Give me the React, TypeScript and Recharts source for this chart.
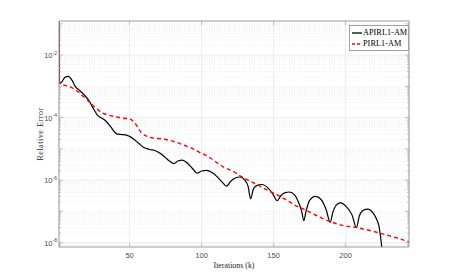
import React from "react";
import {
    CartesianGrid,
    Legend,
    Line,
    LineChart,
    ReferenceLine,
    XAxis,
    YAxis,
} from "recharts";

// iterations and log10(relative error)
const apirlIter = [
    1, 1.4, 3, 5, 7.4, 10, 12.5, 15, 18.2, 21.7, 24.5, 27.5, 30, 33.3, 37, 40.2, 43, 47.2, 50, 53,
    56.5, 59.9, 64, 68, 71.5, 74.9, 78, 80.7, 83.5, 86.6, 90, 93.5, 97, 100, 103.3, 107, 110.5, 114,
    117.5, 120, 123, 126.6, 130, 132.3, 134, 136, 138.5, 142, 146, 149.5, 152.5, 155, 158, 161,
    164.5, 167.5, 169.5, 171, 172.5, 175, 179, 183, 186.5, 189.3, 191, 193.5, 196.5, 200.5, 204.5,
    207.5, 209.5, 212, 215.5, 219, 221.5, 223, 224.5, 226,
];
const apirlLog = [
    -0.8, -2.91, -2.85, -2.72, -2.68, -2.8, -3.02, -3.12, -3.26, -3.45, -3.68, -3.91, -4.0, -4.1,
    -4.3, -4.49, -4.54, -4.55, -4.6, -4.69, -4.83, -4.96, -5.02, -5.06, -5.15, -5.28, -5.4, -5.47,
    -5.39, -5.36, -5.45, -5.62, -5.78, -5.71, -5.69, -5.75, -5.88, -6.05, -6.19, -6.05, -5.94, -5.9,
    -6.0, -6.2, -6.6, -6.28, -6.17, -6.14, -6.25, -6.45, -6.66, -6.5, -6.4, -6.38, -6.47, -6.73,
    -7.0, -7.3, -7.0, -6.65, -6.52, -6.62, -6.95, -7.35, -7.05, -6.8, -6.73, -6.85, -7.12, -7.52,
    -7.15, -6.97, -6.93, -7.05, -7.25, -7.45, -7.9, -8.6,
];

const pirlIter = [
    1, 1.4, 5, 10.2, 13.5, 17.1, 20.5, 24, 27.5, 31, 34.5, 37.9, 42, 46, 50.5, 53, 55.3, 57.6, 60,
    63.4, 67.5, 72, 77, 83.1, 87.5, 92.3, 98, 103.9, 110, 116, 121.5, 127, 133, 140, 146, 152.5, 159,
    166.4, 171, 180, 189.5, 198, 208, 224, 244,
];
const pirlLog = [
    -0.8, -2.91, -2.97, -3.05, -3.15, -3.29, -3.43, -3.59, -3.73, -3.85, -3.91, -3.95, -3.99, -4.02,
    -4.05, -4.14, -4.28, -4.45, -4.55, -4.62, -4.66, -4.68, -4.72, -4.8, -4.88, -4.96, -5.1, -5.23,
    -5.42, -5.6, -5.71, -5.87, -6.02, -6.18, -6.33, -6.47, -6.64, -6.84, -6.93, -7.14, -7.33,
    -7.45, -7.52, -7.7, -7.97,
];

const iterTicks = [50, 100, 150, 200];
const decadeTicks = [-8, -6, -4, -2];
const decades = [-9, -8, -7, -6, -5, -4, -3, -2, -1];
const mantissas = [2, 3, 4, 5, 6, 7, 8, 9];

const X_DOMAIN: [number, number] = [1, 244];
const Y_DOMAIN: [number, number] = [-8.14, -0.91];

const apirlData = apirlIter.map((x, i) => ({ x, y: apirlLog[i] }));
const pirlData = pirlIter.map((x, i) => ({ x, y: pirlLog[i] }));

const inRange = (v: number) => v >= Y_DOMAIN[0] && v <= Y_DOMAIN[1];
const minorLogs = decades
    .flatMap((d) => mantissas.map((m) => d + Math.log10(m)))
    .filter(inRange);
const otherDecades = decades.filter((d) => inRange(d) && !decadeTicks.includes(d));
const allYTicks = [...decades.filter(inRange), ...minorLogs].sort((a, b) => a - b);

const AXIS = "#9a9a9a";
const TICKTXT = "#4a4a4a";
const LABEL = "#222222";
const SANS = "'Liberation Sans', Arial, sans-serif";
const SERIF = "'Liberation Serif', 'Times New Roman', serif";

const YTick = (props: any) => {
    const { x, y, payload, side } = props;
    const v = payload.value;
    const major = Math.abs(v - Math.round(v)) < 1e-6;
    const len = major ? 4 : 2;
    const dir = side === "left" ? 1 : -1;
    const labelled = side === "left" && major && decadeTicks.includes(Math.round(v));
    return (
        <g>
            <line x1={x} x2={x + dir * len} y1={y} y2={y} stroke={AXIS} strokeWidth={0.6} />
            {labelled && (
                <text x={x - 2} y={y + 3} textAnchor="end" fontFamily={SANS} fontSize={7.5} fill={TICKTXT}>
                    <tspan>10</tspan>
                    <tspan dy={-3.5} fontSize={5}>{String(Math.round(v))}</tspan>
                </text>
            )}
        </g>
    );
};

const XTick = (props: any) => {
    const { x, y, payload, side } = props;
    const dir = side === "bottom" ? -1 : 1;
    return (
        <g>
            <line x1={x} x2={x} y1={y} y2={y + dir * 4} stroke={AXIS} strokeWidth={0.6} />
            {side === "bottom" && (
                <text x={x} y={y + 11} textAnchor="middle" fontFamily={SANS} fontSize={7.5} fill={TICKTXT}>
                    {payload.value}
                </text>
            )}
        </g>
    );
};

const XLabel = (props: any) => {
    const { viewBox } = props;
    return (
        <text
            x={viewBox.x + viewBox.width / 2}
            y={viewBox.y + 21}
            textAnchor="middle"
            fontFamily={SERIF}
            fontSize={7.9}
            fill={LABEL}
            stroke="none"
        >
            Iterations (k)
        </text>
    );
};

const YLabel = (props: any) => {
    const { viewBox } = props;
    const cx = 40.5;
    const cy = viewBox.y + viewBox.height / 2;
    return (
        <text
            x={cx}
            y={cy}
            transform={`rotate(-90 ${cx} ${cy})`}
            textAnchor="middle"
            dominantBaseline="central"
            fontFamily={SERIF}
            fontSize={8.2}
            letterSpacing={0.5}
            fill={LABEL}
            stroke="none"
        >
            Relative Error
        </text>
    );
};

const LegendBox = () => (
    <div
        style={{
            background: "#fff",
            border: "1px solid #a0a0a0",
            padding: "1px 1px 1px 2px",
            fontFamily: SERIF,
            fontSize: 8.3,
            lineHeight: "11px",
            color: "#000",
        }}
    >
        {[
            { name: "APIRL1-AM", color: "#000", dash: undefined },
            { name: "PIRL1-AM", color: "#ff0000", dash: "3 2" },
        ].map((e) => (
            <div key={e.name} style={{ display: "flex", alignItems: "center", whiteSpace: "nowrap" }}>
                <svg width={10} height={6} style={{ marginRight: 1 }}>
                    <line x1={0} x2={10} y1={3} y2={3} stroke={e.color} strokeWidth={1.3} strokeDasharray={e.dash} />
                </svg>
                {e.name}
            </div>
        ))}
    </div>
);

export default function App() {
    return (
        <div style={{ position: "absolute", left: 0, top: 0, width: 452, height: 278, background: "#fff" }}>
            <LineChart
                width={452}
                height={278}
                margin={{ top: 20, right: 42, bottom: 30, left: 58 }}
            >
                <CartesianGrid horizontal={false} stroke="#e2e2e2" strokeWidth={0.6} />
                {minorLogs.map((v) => (
                    <ReferenceLine key={"m" + v} y={v} stroke="#dadada" strokeWidth={0.5} strokeDasharray="1 1.5" />
                ))}
                {otherDecades.map((v) => (
                    <ReferenceLine key={"d" + v} y={v} stroke="#dadada" strokeWidth={0.5} strokeDasharray="1 1.5" />
                ))}
                {decadeTicks.map((v) => (
                    <ReferenceLine key={"M" + v} y={v} stroke="#e2e2e2" strokeWidth={0.6} />
                ))}
                <XAxis
                    dataKey="x"
                    type="number"
                    domain={X_DOMAIN}
                    ticks={iterTicks}
                    allowDataOverflow
                    height={1}
                    interval={0}
                    tickSize={0}
                    tickMargin={0}
                    tickLine={false}
                    stroke={AXIS}
                    tick={(p: any) => <XTick {...p} side="bottom" />}
                    label={(p: any) => <XLabel {...p} />}
                />
                <XAxis
                    xAxisId="top"
                    orientation="top"
                    dataKey="x"
                    type="number"
                    domain={X_DOMAIN}
                    ticks={iterTicks}
                    allowDataOverflow
                    height={1}
                    interval={0}
                    tickSize={0}
                    tickMargin={0}
                    tickLine={false}
                    stroke={AXIS}
                    tick={(p: any) => <XTick {...p} side="top" />}
                />
                <YAxis
                    type="number"
                    domain={Y_DOMAIN}
                    ticks={allYTicks}
                    allowDataOverflow
                    width={1}
                    interval={0}
                    tickSize={0}
                    tickMargin={0}
                    tickLine={false}
                    stroke={AXIS}
                    tick={(p: any) => <YTick {...p} side="left" />}
                    label={(p: any) => <YLabel {...p} />}
                />
                <YAxis
                    yAxisId="right"
                    orientation="right"
                    type="number"
                    domain={Y_DOMAIN}
                    ticks={allYTicks}
                    allowDataOverflow
                    width={1}
                    interval={0}
                    tickSize={0}
                    tickMargin={0}
                    tickLine={false}
                    stroke={AXIS}
                    tick={(p: any) => <YTick {...p} side="right" />}
                />
                <Line
                    data={apirlData}
                    dataKey="y"
                    type="monotone"
                    stroke="#000"
                    strokeWidth={1.2}
                    dot={false}
                    isAnimationActive={false}
                />
                <Line
                    data={pirlData}
                    dataKey="y"
                    type="monotone"
                    stroke="#ff0000"
                    strokeWidth={1.4}
                    strokeDasharray="4 3"
                    dot={false}
                    isAnimationActive={false}
                />
                <Legend
                    layout="vertical"
                    align="center"
                    verticalAlign="middle"
                    content={() => <LegendBox />}
                    wrapperStyle={{ position: "absolute", left: 349, top: 25, width: "auto", height: "auto" }}
                />
            </LineChart>
        </div>
    );
}
